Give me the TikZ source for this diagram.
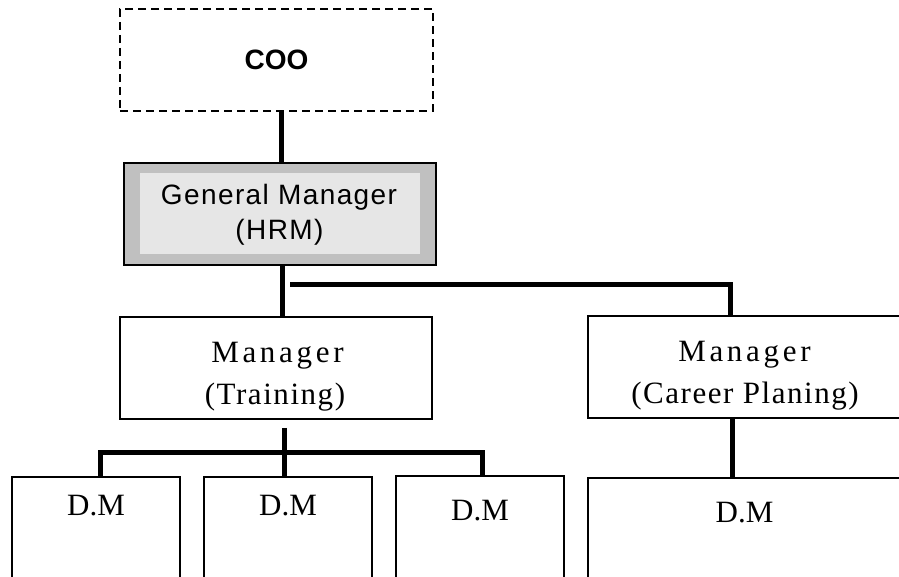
\documentclass[tikz,border=0pt]{standalone}
\usepackage{fontspec}
\usetikzlibrary{calc}
\newfontfamily\coofont{Liberation Sans}
\newfontfamily\gmfont{Liberation Sans}[LetterSpace=5]
\newfontfamily\mgrfont{Liberation Serif}[LetterSpace=12]
\newfontfamily\deptfont{Liberation Serif}[LetterSpace=5]
\newfontfamily\dmfont{Liberation Serif}
\definecolor{gmouter}{HTML}{C0C0C0}
\definecolor{gminner}{HTML}{E6E6E6}
\begin{document}
\begin{tikzpicture}[x=1pt,y=-1pt,
  boxline/.style={draw, line width=1.5pt, rectangle, inner sep=0pt},
  coobox/.style={draw, line width=1.3pt, dash pattern=on 8pt off 5pt, rectangle, inner sep=0pt,
    font=\coofont\bfseries\fontsize{28}{34}\selectfont},
  gmtext/.style={inner sep=0pt, anchor=base, font=\gmfont\fontsize{28}{34}\selectfont},
  mgrtext/.style={inner sep=0pt, anchor=base, font=\mgrfont\fontsize{31}{36}\selectfont},
  depttext/.style={inner sep=0pt, anchor=base, font=\deptfont\fontsize{31}{36}\selectfont},
  dmbox/.style={boxline, anchor=north, minimum width=168pt, text height=22pt, text depth=140pt,
    font=\dmfont\fontsize{31}{36}\selectfont},
  link/.style={line width=5pt}]
\clip (0,0) rectangle (899,577);

% COO
\node[coobox, minimum width=313pt, minimum height=102pt] (coo) at (276.5,60) {COO};

% General Manager (HRM)
\node[boxline, fill=gmouter, minimum width=312pt, minimum height=102pt] (gm) at (280,214) {};
\node[fill=gminner, inner sep=0pt, minimum width=280pt, minimum height=81pt] (gmin) at (280,213.5) {};
\node[gmtext] (gm-a) at (279,204.3) {General Manager};
\node[gmtext] (gm-b) at (279.5,240) {(HRM)};

% Managers
\node[boxline, minimum width=312pt, minimum height=102pt] (trn) at (276,368) {};
\node[mgrtext] (trn-a) at (277.5,362.7) {Manager};
\node[depttext] (trn-b) at (275,404) {(Training)};

\node[boxline, minimum width=313pt, minimum height=102pt] (car) at (744.5,367) {};
\node[mgrtext] (car-a) at (744.5,361.7) {Manager};
\node[depttext] (car-b) at (745,403) {(Career Planing)};

% Deputy managers
\node[dmbox, inner ysep=17pt] (dm1) at (96,476) {D.M};
\node[dmbox, inner ysep=17pt] (dm2) at (288,476) {D.M};
\node[dmbox, inner ysep=23pt] (dm3) at (480,475) {D.M};
\node[dmbox, inner ysep=23pt, minimum width=313pt] (dm4) at (744.5,477) {D.M};

% Reporting lines
\draw[link] ([xshift=4.5pt]coo.south) -- ([xshift=4.5pt]coo.south |- gm.north);
\draw[link] ([xshift=2pt]gm.south) -- ([xshift=2pt]gm.south |- trn.north);
\coordinate (gmbar) at (290,284);
\draw[link] (gmbar) -| ([xshift=-14.5pt]car.north);

\coordinate (trnbar) at (284,452);
\draw[link] ([xshift=8pt,yshift=-8pt]trn.south) -- ([xshift=8pt]trn.south |- dm2.north);
\draw[link] ([xshift=4pt]dm1.north) -- ([xshift=4pt]dm1.north |- trnbar)
  -- ([xshift=2pt]dm3.north |- trnbar) -- ([xshift=2pt]dm3.north);

\draw[link] ([xshift=-12.5pt]car.south) -- ([xshift=-12.5pt]car.south |- dm4.north);
\end{tikzpicture}
\end{document}
